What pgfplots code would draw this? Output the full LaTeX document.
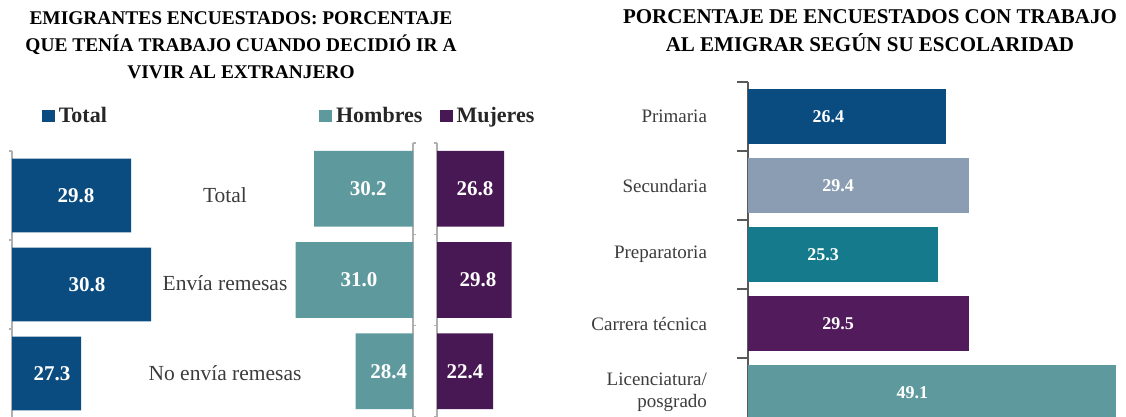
\documentclass[border=0pt]{standalone}
\usepackage{fontspec}
\setmainfont{Liberation Serif}
\usepackage{pgfplots}
\pgfplotsset{compat=1.18}

\definecolor{azul}{RGB}{11,76,128}
\definecolor{verde}{RGB}{94,154,157}
\definecolor{morado}{RGB}{72,24,84}
\definecolor{morado2}{RGB}{82,27,92}
\definecolor{grisazul}{RGB}{139,157,179}
\definecolor{petroleo}{RGB}{21,122,139}
\definecolor{ejes}{RGB}{175,175,175}
\definecolor{texto}{RGB}{60,60,60}

\pgfplotsset{
  panel/.style={
    xbar, scale only axis, y dir=reverse,
    axis x line=none, xtick=\empty, axis y line*=left,
    ymin=-0.5, ymax=2.5,
    ytick={-0.5,0.5,1.5,2.5}, yticklabels={},
    tick align=outside, major tick length=1.5pt,
    y axis line style={ejes, line width=0.6pt},
    every tick/.style={ejes, line width=0.6pt},
    bar width=0.83,
    legend style={draw=none, fill=none, inner sep=0pt, anchor=west,
      font=\fontsize{11}{12}\selectfont\bfseries, text=black!85},
    legend image code/.code={\fill[##1] (0pt,-3.2pt) rectangle (6.4pt,3.2pt);},
  },
}
\tikzset{lbl/.style={text=white, font=\fontsize{10.5}{12}\selectfont\bfseries}}

\begin{document}
\begin{tikzpicture}
\useasboundingbox (0,0) rectangle (563pt,-208.5pt);
\clip (0,0) rectangle (563pt,-208.5pt);

% Total
\begin{axis}[panel, at={(6pt,-209pt)}, anchor=south west,
  width=74pt, height=133.5pt, xmin=23.85, xmax=31.25,
  legend style={at={(0.2,1.131)}}]
  \addplot[fill=azul, draw=none] coordinates {(29.8,0) (30.8,1) (27.3,2)};
  \addlegendentry{Total}
  \node[lbl] at (axis cs:27.05,0) {29.8};
  \node[lbl] at (axis cs:27.6,1) {30.8};
  \node[lbl] at (axis cs:25.85,2) {27.3};
\end{axis}

% Hombres
\begin{axis}[panel, x dir=reverse, axis y line*=right,
  at={(206.5pt,-208.5pt)}, anchor=south east,
  width=61.5pt, height=137pt, xmin=25.9, xmax=31.25,
  legend style={at={(0.235,1.0985)}}]
  \addplot[fill=verde, draw=none] coordinates {(30.2,0) (31.0,1) (28.4,2)};
  \addlegendentry{Hombres}
  \node[lbl] at (axis cs:27.85,0) {30.2};
  \node[lbl] at (axis cs:28.25,1) {31.0};
  \node[lbl] at (axis cs:26.95,2) {28.4};
\end{axis}

% Mujeres
\begin{axis}[panel, at={(218.5pt,-208.5pt)}, anchor=south west,
  width=40pt, height=137pt, xmin=0, xmax=32,
  legend style={at={(0.03,1.0985)}}]
  \addplot[fill=morado, draw=none] coordinates {(26.8,0) (29.8,1) (22.4,2)};
  \addlegendentry{Mujeres}
  \node[lbl] at (axis cs:15.2,0) {26.8};
  \node[lbl] at (axis cs:16.4,1) {29.8};
  \node[lbl] at (axis cs:11.2,2) {22.4};
\end{axis}

% Escolaridad
\begin{axis}[xbar, scale only axis, y dir=reverse,
  at={(374pt,-213.5pt)}, anchor=south west, width=189pt, height=172.5pt,
  xmin=0, xmax=50.4, ymin=-0.5, ymax=4.5,
  axis x line=none, xtick=\empty, axis y line*=left,
  y axis line style={black!65, line width=0.7pt},
  ytick={0,1,2,3,4},
  yticklabels={Primaria,Secundaria,Preparatoria,Carrera técnica,{Licenciatura/\\posgrado}},
  major tick length=0pt,
  extra y ticks={-0.5,0.5,1.5,2.5,3.5}, extra y tick labels={},
  extra y tick style={major tick length=5.5pt, tick align=outside,
    tick style={black!65, line width=0.7pt}},
  yticklabel style={align=right, font=\fontsize{9.5}{11}\selectfont,
    text=texto, xshift=-17pt},
  bar width=0.8, bar shift=0pt]
  \addplot[fill=azul, draw=none] coordinates {(26.4,0)};
  \addplot[fill=grisazul, draw=none] coordinates {(29.4,1)};
  \addplot[fill=petroleo, draw=none] coordinates {(25.3,2)};
  \addplot[fill=morado2, draw=none] coordinates {(29.5,3)};
  \addplot[fill=verde, draw=none] coordinates {(49.1,4)};
  \node[lbl, font=\fontsize{9}{11}\selectfont\bfseries] at (axis cs:10.7,0) {26.4};
  \node[lbl, font=\fontsize{9}{11}\selectfont\bfseries] at (axis cs:12.0,1) {29.4};
  \node[lbl, font=\fontsize{9}{11}\selectfont\bfseries] at (axis cs:10.0,2) {25.3};
  \node[lbl, font=\fontsize{9}{11}\selectfont\bfseries] at (axis cs:12.0,3) {29.5};
  \node[lbl, font=\fontsize{9}{11}\selectfont\bfseries] at (axis cs:21.9,4) {49.1};
\end{axis}

% category labels between the panels
\begin{scope}[every node/.style={font=\fontsize{10.75}{12}\selectfont, text=texto}]
  \node at (112.5pt,-97.5pt) {Total};
  \node at (112.5pt,-141.5pt) {Envía remesas};
  \node at (112.5pt,-186.5pt) {No envía remesas};
\end{scope}

% titles
\node[font=\fontsize{9.7}{13.5}\selectfont\bfseries, align=center]
  at (120.5pt,-22.5pt) {EMIGRANTES ENCUESTADOS: PORCENTAJE\\QUE TENÍA TRABAJO CUANDO DECIDIÓ IR A\\VIVIR AL EXTRANJERO};
\node[font=\fontsize{10.5}{14}\selectfont\bfseries, align=center]
  at (435pt,-15.5pt) {PORCENTAJE DE ENCUESTADOS CON TRABAJO\\AL EMIGRAR SEGÚN SU ESCOLARIDAD};
\end{tikzpicture}
\end{document}
